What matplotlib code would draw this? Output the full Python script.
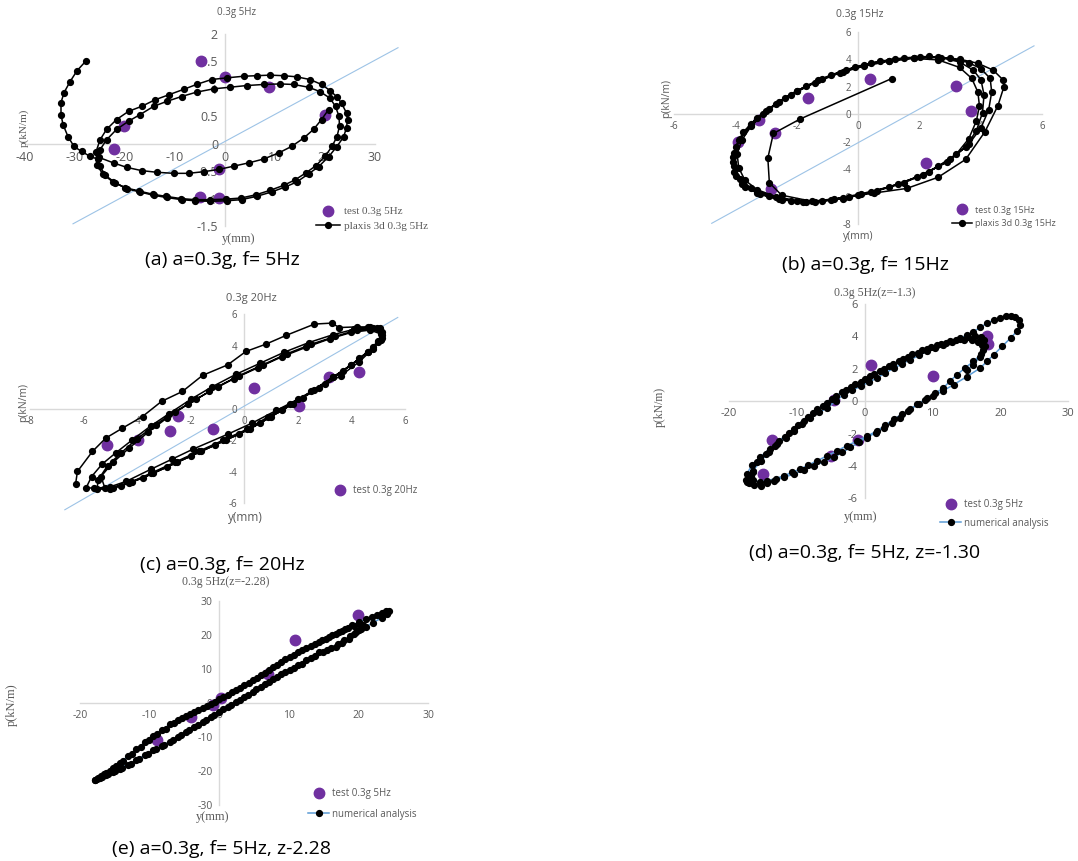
import matplotlib
matplotlib.use('Agg')
import matplotlib.pyplot as plt
from matplotlib.ticker import FuncFormatter

W, H = 1078, 861
SANS = 'Open Sans'
SERIF = 'Liberation Serif'
PURPLE = '#7030A0'
GRAY = '#595959'
REFBLUE = '#9DC3E6'
LINEBLUE = '#5B9BD5'

plt.rcParams['font.family'] = [SANS, 'DejaVu Sans']

# ---------------- (a) 0.3g 5Hz ----------------
a_test_x = [-4.8, 0.0, 8.7, 20.0, -20.3, -22.3, -1.3, -5.0, -1.3]
a_test_y = [1.51, 1.22, 1.03, 0.53, 0.32, -0.09, -0.47, -0.98, -0.99]
a_ref = [(-30.4, -1.46), (34.6, 1.75)]
a_seg1 = [(-27.8, 1.51), (-29.6, 1.33), (-31.0, 1.13), (-32.2, 0.93), (-32.8, 0.75), (-32.8, 0.53),
          (-32.4, 0.35), (-31.4, 0.13), (-30.2, -0.05), (-28.7, -0.14), (-27.0, -0.23), (-25.5, -0.28)]
a_seg2 = [(-25.0, -0.41), (-24.0, -0.57), (-22.0, -0.71), (-19.7, -0.82), (-17.0, -0.88), (-14.3, -0.94),
          (-11.7, -0.98), (-8.7, -1.02), (-6.0, -1.04), (-3.0, -1.05), (0.3, -1.04), (3.3, -1.02),
          (6.3, -0.96), (9.3, -0.88), (12.0, -0.79), (14.3, -0.70), (16.7, -0.55), (18.7, -0.42),
          (20.7, -0.24), (22.3, -0.06), (23.7, 0.12), (24.3, 0.29), (24.5, 0.44), (24.3, 0.56),
          (23.3, 0.74), (22.3, 0.86), (21.0, 0.97), (19.3, 1.08), (17.0, 1.17), (14.3, 1.22),
          (11.7, 1.24), (9.0, 1.25), (6.3, 1.24), (3.7, 1.23), (0.3, 1.20), (-2.7, 1.17),
          (-5.7, 1.08), (-8.3, 0.99), (-11.3, 0.89), (-14.0, 0.80), (-16.7, 0.68), (-19.3, 0.59),
          (-21.7, 0.44), (-23.7, 0.26), (-25.0, 0.07), (-25.8, -0.15)]
a_seg3 = [(-25.6, -0.38), (-24.5, -0.55), (-22.5, -0.69), (-20.0, -0.80), (-17.3, -0.86), (-14.5, -0.92),
          (-11.8, -0.96), (-8.8, -1.00), (-6.0, -1.02), (-3.0, -1.02), (0.2, -1.01), (3.2, -0.99),
          (6.2, -0.93), (9.0, -0.85), (11.7, -0.76), (14.0, -0.66), (16.2, -0.53), (18.2, -0.40),
          (20.0, -0.23), (21.4, -0.05), (22.4, 0.13), (22.9, 0.32), (22.8, 0.50), (22.1, 0.68),
          (21.0, 0.83), (19.0, 0.95), (16.7, 1.03), (13.7, 1.08), (11.0, 1.09), (7.7, 1.08),
          (4.3, 1.06), (1.0, 1.03), (-2.3, 1.00), (-5.7, 0.94), (-8.7, 0.86), (-11.7, 0.77),
          (-14.3, 0.68), (-17.0, 0.53), (-19.3, 0.41), (-21.7, 0.26), (-23.7, 0.07), (-25.0, -0.11)]
a_seg4 = [(-25.2, -0.25), (-22.3, -0.35), (-19.7, -0.43), (-16.7, -0.49), (-13.7, -0.52), (-10.3, -0.54),
          (-7.3, -0.54), (-4.3, -0.51), (-1.3, -0.47), (1.7, -0.41), (4.7, -0.35), (7.7, -0.28),
          (10.7, -0.17), (13.3, -0.05), (15.7, 0.10), (17.7, 0.26), (19.3, 0.44), (20.7, 0.62)]

# ---------------- (b) 0.3g 15Hz ----------------
b_test_x = [0.38, 3.17, 3.66, -1.65, -3.23, -2.72, -3.93, -2.85, 2.2]
b_test_y = [2.55, 2.06, 0.22, 1.14, -0.44, -1.41, -2.06, -5.45, -3.59]
b_ref = [(-4.78, -7.95), (5.73, 4.97)]
b_seg1 = [(1.09, 2.59), (-1.9, -0.36), (-2.77, -1.41), (-2.95, -3.2), (-2.9, -5.0), (-2.5, -5.9),
          (-1.52, -6.35), (-0.5, -6.1), (0.5, -5.75), (1.58, -5.41), (2.6, -4.6), (3.5, -3.3),
          (4.13, -1.28), (4.55, 0.6), (4.75, 2.0), (4.73, 2.47), (4.4, 3.2)]
b_seg2 = [(3.9, 3.7), (3.3, 4.0), (2.6, 4.15), (1.8, 4.1), (1.0, 3.9), (0.2, 3.55), (-0.5, 3.1),
          (-1.3, 2.45), (-2.0, 1.7), (-2.6, 0.9), (-3.1, 0.0), (-3.5, -0.9), (-3.8, -1.9),
          (-3.95, -2.9), (-3.9, -3.9), (-3.7, -4.8), (-3.3, -5.5), (-2.7, -6.0), (-2.0, -6.3),
          (-1.2, -6.35), (-0.3, -6.05), (0.6, -5.6), (1.5, -5.0), (2.3, -4.2), (3.0, -3.3),
          (3.6, -2.2), (4.0, -1.0), (4.25, 0.3), (4.35, 1.6), (4.3, 2.6), (4.0, 3.3)]
b_seg3 = [(3.6, 3.75), (3.0, 4.05), (2.3, 4.2), (1.5, 4.1), (0.7, 3.85), (-0.1, 3.45), (-0.9, 2.85),
          (-1.7, 2.05), (-2.4, 1.15), (-3.0, 0.2), (-3.5, -0.8), (-3.85, -1.8), (-4.05, -2.8),
          (-4.05, -3.8), (-3.85, -4.7), (-3.5, -5.4), (-2.9, -5.95), (-2.2, -6.3), (-1.4, -6.4),
          (-0.5, -6.15), (0.4, -5.7), (1.3, -5.1), (2.1, -4.4), (2.9, -3.5), (3.5, -2.4),
          (3.85, -1.2), (4.05, 0.1), (4.1, 1.4), (4.0, 2.5), (3.75, 3.2)]
b_seg4 = [(3.3, 3.8), (2.7, 4.1), (2.0, 4.15), (1.2, 4.0), (0.4, 3.7), (-0.4, 3.2), (-1.2, 2.55),
          (-2.0, 1.7), (-2.7, 0.75), (-3.3, -0.25), (-3.75, -1.3), (-4.0, -2.4), (-4.1, -3.5),
          (-4.0, -4.5), (-3.7, -5.3), (-3.2, -5.85), (-2.5, -6.25), (-1.7, -6.4), (-0.8, -6.2),
          (0.1, -5.8), (1.0, -5.3), (1.9, -4.6), (2.6, -3.8), (3.2, -2.9), (3.6, -1.8),
          (3.85, -0.5), (3.95, 0.6), (3.9, 1.6), (3.7, 2.6)]
b_seg5 = [(3.3, 3.4), (2.6, 3.95), (1.8, 4.05), (1.0, 3.85), (0.2, 3.5), (-0.6, 3.0), (-1.4, 2.3),
          (-2.2, 1.4), (-2.9, 0.4), (-3.5, -0.7), (-3.9, -1.9), (-4.1, -3.1), (-4.05, -4.2),
          (-3.8, -5.1), (-3.3, -5.75), (-2.6, -6.2), (-1.8, -6.4), (-0.9, -6.25), (0.0, -5.9)]

# ---------------- (c) 0.3g 20Hz ----------------
c_test_x = [-5.11, -3.95, -2.47, -2.77, -1.18, 0.37, 2.06, 3.18, 4.27]
c_test_y = [-2.29, -2.01, -0.44, -1.38, -1.27, 1.31, 0.15, 2.05, 2.33]
c_ref = [(-6.7, -6.41), (5.73, 5.8)]
c_seg1 = [(-6.3, -4.8), (-6.23, -3.98), (-5.67, -2.71), (-5.17, -1.86), (-4.55, -1.23), (-3.8, -0.49),
          (-3.09, 0.47), (-2.31, 1.1), (-1.56, 2.12), (-0.62, 2.79), (0.06, 3.64), (0.8, 4.1),
          (1.56, 4.66), (2.62, 5.38), (3.26, 5.44), (3.55, 5.16), (4.2, 5.2), (4.6, 5.2),
          (4.95, 5.1), (5.15, 4.9), (5.15, 4.5), (4.8, 3.8), (4.3, 3.0), (3.6, 2.1), (2.8, 1.3),
          (2.0, 0.6), (1.2, -0.1), (0.3, -0.9), (-0.6, -1.6), (-1.9, -2.55), (-2.7, -3.2),
          (-3.5, -3.85), (-4.4, -4.6), (-5.0, -4.95), (-5.6, -5.05), (-5.9, -5.0)]
c_seg2 = [(-5.7, -4.3), (-5.3, -3.5), (-4.8, -2.8), (-4.2, -2.0), (-3.5, -1.1), (-2.8, -0.3),
          (-2.0, 0.6), (-1.2, 1.4), (-0.3, 2.2), (0.6, 2.9), (1.5, 3.6), (2.4, 4.2), (3.3, 4.7),
          (4.1, 5.05), (4.7, 5.2), (5.05, 5.1), (5.15, 4.7), (5.0, 4.3), (4.6, 3.6), (4.0, 2.8),
          (3.3, 2.0), (2.5, 1.1), (1.7, 0.3), (0.9, -0.5), (0.1, -1.3), (-0.8, -2.0), (-1.7, -2.7),
          (-2.6, -3.4), (-3.5, -4.1), (-4.3, -4.7), (-5.0, -5.1), (-5.5, -5.1)]
c_seg3 = [(-5.45, -4.5), (-5.1, -3.6), (-4.6, -2.8), (-4.0, -1.9), (-3.3, -1.0), (-2.6, -0.2),
          (-1.8, 0.6), (-1.0, 1.4), (-0.2, 2.1), (0.7, 2.8), (1.6, 3.5), (2.5, 4.1), (3.4, 4.6),
          (4.2, 5.0), (4.8, 5.1), (5.1, 4.9), (5.1, 4.4), (4.8, 3.9), (4.3, 3.2), (3.7, 2.4),
          (3.0, 1.6), (2.2, 0.7), (1.4, -0.1), (0.6, -0.9), (-0.2, -1.6), (-1.1, -2.3), (-2.0, -3.0),
          (-2.9, -3.7), (-3.8, -4.4), (-4.6, -4.9), (-5.2, -5.05)]
c_seg4 = [(-5.35, -4.3), (-4.9, -3.4), (-4.3, -2.5), (-3.6, -1.5), (-2.9, -0.6), (-2.1, 0.3),
          (-1.3, 1.1), (-0.4, 1.9), (0.5, 2.6), (1.4, 3.3), (2.3, 3.9), (3.2, 4.45), (4.0, 4.85),
          (4.7, 5.0), (5.1, 4.75), (5.0, 4.25), (4.6, 3.6), (4.0, 2.8), (3.3, 2.0), (2.6, 1.2),
          (1.8, 0.3), (1.0, -0.5), (0.2, -1.3), (-0.7, -2.0), (-1.6, -2.7), (-2.5, -3.4),
          (-3.4, -4.1), (-4.2, -4.65), (-4.9, -5.0)]

# ---------------- (d) 0.3g 5Hz (z=-1.3) ----------------
d_test_x = [0.93, 10.0, -4.46, 18.0, 18.1, -13.6, -0.98, -4.95, -15.0]
d_test_y = [2.25, 1.57, 0.06, 4.03, 3.52, -2.39, -2.39, -3.37, -4.5]
d_seg1 = [(-17.3, -5.0), (-16.5, -4.3), (-15.3, -3.7), (-14.1, -3.15), (-12.9, -2.66), (-11.6, -2.25),
          (-10.4, -1.84), (-9.2, -1.43), (-8.0, -1.02), (-6.7, -0.7), (-5.5, -0.41), (-4.3, 0.0),
          (-3.1, 0.41), (-1.9, 0.66), (-0.6, 0.92), (0.6, 1.17), (1.8, 1.43), (3.0, 1.73),
          (4.3, 2.04), (5.5, 2.3), (6.7, 2.56), (8.0, 2.82), (9.2, 3.07), (10.4, 3.28), (11.6, 3.48),
          (12.9, 3.68), (14.1, 3.89), (15.1, 4.09), (16.0, 4.29), (17.0, 4.55), (18.0, 4.81),
          (19.0, 5.0), (20.0, 5.15), (20.8, 5.25), (21.5, 5.27), (22.2, 5.2), (22.7, 5.0),
          (22.9, 4.7), (22.5, 4.35), (21.5, 3.9), (20.3, 3.4), (19.0, 2.86), (18.0, 2.45),
          (17.0, 2.04), (15.0, 1.5), (13.1, 1.02), (11.6, 0.65), (10.1, 0.31), (8.9, 0.05),
          (7.7, -0.2), (6.4, -0.6), (5.2, -1.02), (4.0, -1.33), (2.8, -1.64), (1.6, -1.95),
          (0.3, -2.25), (-0.9, -2.55), (-2.1, -2.86), (-3.3, -3.17), (-4.6, -3.48), (-6.0, -3.74),
          (-7.5, -3.99), (-9.0, -4.25), (-10.4, -4.5), (-11.9, -4.7), (-13.4, -4.91),
          (-14.4, -5.08), (-15.3, -5.21), (-16.3, -5.2), (-17.1, -5.07), (-17.5, -4.85), (-17.4, -4.5)]
d_seg2 = [(-16.6, -3.95), (-15.4, -3.45), (-14.0, -2.95), (-12.6, -2.45), (-11.2, -1.95), (-9.8, -1.45),
          (-8.4, -0.95), (-7.0, -0.5), (-5.6, -0.1), (-4.2, 0.3), (-2.8, 0.7), (-1.4, 1.05),
          (0.0, 1.35), (1.4, 1.7), (2.8, 2.0), (4.2, 2.3), (5.6, 2.6), (7.0, 2.9), (8.4, 3.15),
          (9.8, 3.35), (11.2, 3.55), (12.6, 3.72), (14.0, 3.85), (15.2, 3.95), (16.3, 4.0),
          (17.1, 3.95), (17.6, 3.75), (17.7, 3.4), (17.2, 2.9), (16.0, 2.45), (14.8, 2.05),
          (13.6, 1.64), (12.6, 1.25), (11.6, 0.82), (10.4, 0.5), (9.2, 0.2), (8.0, -0.15),
          (6.7, -0.51), (5.5, -0.8), (4.3, -1.12), (3.0, -1.5), (1.8, -1.84), (0.4, -2.15),
          (-1.1, -2.45), (-2.6, -2.75), (-4.1, -3.07), (-5.5, -3.37), (-7.0, -3.68), (-8.3, -3.95),
          (-9.5, -4.19), (-10.7, -4.4), (-11.9, -4.6), (-13.1, -4.78), (-14.4, -4.91),
          (-15.5, -4.98), (-16.4, -4.9), (-16.8, -4.65), (-16.5, -4.4)]
d_seg3 = [(-15.9, -3.75), (-14.6, -3.25), (-13.2, -2.75), (-11.8, -2.2), (-10.4, -1.7), (-9.0, -1.2),
          (-7.6, -0.75), (-6.2, -0.3), (-4.8, 0.15), (-3.4, 0.55), (-2.0, 0.9), (-0.6, 1.2),
          (0.8, 1.55), (2.2, 1.85), (3.6, 2.15), (5.0, 2.45), (6.4, 2.75), (7.8, 3.0), (9.2, 3.25),
          (10.6, 3.45), (12.0, 3.62), (13.4, 3.75), (14.7, 3.8), (15.8, 3.78), (16.7, 3.65),
          (17.3, 3.45), (17.5, 3.15), (17.0, 2.75), (16.0, 2.25), (15.0, 1.9)]

# ---------------- (e) 0.3g 5Hz (z=-2.28) ----------------
e_test_x = [19.9, 10.9, 7.0, 0.2, -0.9, -4.0, -9.0]
e_test_y = [26.0, 18.4, 8.6, 1.5, -0.7, -4.1, -10.8]
e_seg1 = [(-17.9, -22.7), (-17.0, -21.5), (-16.2, -20.5), (-15.2, -19.0), (-14.3, -17.6), (-13.1, -15.6),
          (-11.9, -13.6), (-10.7, -11.6), (-9.5, -9.7), (-8.3, -8.0), (-7.1, -6.3), (-5.9, -4.9),
          (-4.8, -3.7), (-3.6, -2.6), (-2.4, -1.5), (-1.2, -0.2), (0.0, 1.1), (1.2, 2.4), (2.4, 3.7),
          (3.6, 5.2), (4.8, 6.7), (6.0, 8.1), (7.1, 9.6), (8.3, 11.3), (9.5, 12.9), (10.7, 14.2),
          (11.9, 15.5), (13.1, 16.7), (14.3, 17.9), (15.3, 18.9), (16.2, 19.9), (17.2, 20.9),
          (18.1, 21.9), (19.0, 22.8), (20.0, 23.8), (21.0, 24.6), (21.9, 25.3), (22.6, 26.0),
          (23.3, 26.6), (23.9, 27.0), (24.3, 27.0), (24.0, 26.2), (23.3, 25.0), (22.0, 23.6),
          (21.0, 22.4), (20.0, 21.4), (19.3, 20.2), (18.6, 18.9), (17.6, 17.7), (16.7, 16.5),
          (15.5, 15.7), (14.3, 15.0), (13.1, 13.3), (11.9, 11.6), (10.7, 10.3), (9.5, 9.1),
          (8.3, 7.7), (7.1, 6.2), (6.0, 4.7), (4.8, 3.2), (3.6, 1.7), (2.4, 0.3), (1.2, -1.2),
          (0.0, -2.6), (-1.2, -4.1), (-2.4, -5.6), (-3.6, -7.0), (-4.8, -8.5), (-5.9, -10.0),
          (-7.1, -11.5), (-8.3, -12.7), (-9.5, -13.9), (-10.7, -15.4), (-11.9, -16.9),
          (-13.1, -18.1), (-14.3, -19.3), (-15.2, -20.3), (-16.2, -21.3), (-17.1, -22.1), (-17.8, -22.6)]
e_seg2 = [(-17.4, -22.0), (-16.6, -21.0), (-15.7, -19.9), (-14.8, -18.6), (-13.8, -17.0), (-12.6, -15.0),
          (-11.3, -12.9), (-10.1, -11.0), (-8.9, -9.2), (-7.7, -7.5), (-6.5, -5.9), (-5.3, -4.5),
          (-4.2, -3.3), (-3.0, -2.2), (-1.8, -1.0), (-0.6, 0.4), (0.6, 1.8), (1.8, 3.1), (3.0, 4.5),
          (4.2, 6.0), (5.4, 7.4), (6.6, 8.9), (7.7, 10.5), (8.9, 12.1), (10.1, 13.6), (11.3, 14.9),
          (12.5, 16.1), (13.7, 17.3), (14.8, 18.4), (15.8, 19.4), (16.7, 20.3), (17.6, 21.2),
          (18.5, 22.0), (19.4, 22.7), (20.2, 23.2), (20.6, 22.8), (20.3, 21.9), (19.6, 20.8),
          (18.8, 19.6), (17.9, 18.4), (17.0, 17.3), (16.0, 16.2), (14.9, 15.1), (13.7, 13.9),
          (12.5, 12.6), (11.3, 11.2), (10.1, 9.8), (8.9, 8.4), (7.7, 7.0), (6.5, 5.5), (5.3, 4.0),
          (4.1, 2.5), (2.9, 1.0), (1.7, -0.5), (0.5, -1.9), (-0.7, -3.4), (-1.9, -4.9), (-3.1, -6.4),
          (-4.3, -7.9), (-5.5, -9.4), (-6.7, -10.9), (-7.9, -12.3), (-9.1, -13.6), (-10.3, -14.9),
          (-11.5, -16.4), (-12.7, -17.8), (-13.9, -19.0), (-15.0, -20.1), (-16.0, -21.0),
          (-16.9, -21.8), (-17.6, -22.4)]


def fx(x):
    return x / W


def fy(y):
    return 1 - y / H


def make_axes(fig, left, top, right, bottom, xlim, ylim, xticks, yticks, fs):
    ax = fig.add_axes([left / W, 1 - bottom / H, (right - left) / W, (bottom - top) / H])
    ax.set_xlim(xlim)
    ax.set_ylim(ylim)
    ax.patch.set_alpha(0)
    for s in ['top', 'right']:
        ax.spines[s].set_visible(False)
    for s in ['left', 'bottom']:
        ax.spines[s].set_position('zero')
        ax.spines[s].set_color('#d9d9d9')
        ax.spines[s].set_linewidth(1.0)
        ax.spines[s].set_zorder(0.5)
    ax.set_xticks(xticks)
    ax.set_yticks(yticks)
    fmt = FuncFormatter(lambda v, p: '%g' % v)
    ax.xaxis.set_major_formatter(fmt)
    ax.yaxis.set_major_formatter(fmt)
    ax.tick_params(length=0, labelsize=fs, labelcolor=GRAY, pad=5)
    return ax


def join(*segs):
    pts = [p for s in segs for p in s]
    return [p[0] for p in pts], [p[1] for p in pts]


def draw_curve(ax, segs, color, ms=4.2):
    xs, ys = join(*segs)
    line, = ax.plot(xs, ys, '-', color=color, lw=1.1, marker='o', ms=ms,
                    mfc='black', mec='black', zorder=3, clip_on=False)
    return line


def draw_test(ax, xs, ys, ms=7.5):
    pts, = ax.plot(xs, ys, 'o', ls='none', color=PURPLE, ms=ms, zorder=2, clip_on=False)
    return pts


def draw_ref(ax, ref):
    ax.plot([ref[0][0], ref[1][0]], [ref[0][1], ref[1][1]], color=REFBLUE, lw=0.8,
            zorder=1, clip_on=False)


def add_legend(fig, ax, handles, labels, x, y, family, size, spacing):
    ax.legend(handles, labels, loc='center left', bbox_to_anchor=(fx(x), fy(y)),
              bbox_transform=fig.transFigure, frameon=False, borderpad=0, borderaxespad=0,
              handlelength=2.2, handletextpad=0.3, labelspacing=spacing,
              prop={'family': family, 'size': size}, labelcolor=GRAY)


def label(fig, x, y, s, family, size, rot=0, color=GRAY):
    fig.text(fx(x), fy(y), s, ha='center', va='center', family=family, size=size,
             rotation=rot, color=color)


fig = plt.figure(figsize=(W / 100, H / 100), dpi=100)

# (a)
ax = make_axes(fig, 25, 34, 375, 226, (-40, 30), (-1.5, 2),
               [-40, -30, -20, -10, 0, 10, 20, 30], [-1.5, -1, -0.5, 0, 0.5, 1, 1.5, 2], 9)
draw_ref(ax, a_ref)
h1 = draw_test(ax, a_test_x, a_test_y)
h2 = draw_curve(ax, [a_seg1, a_seg2, a_seg3, a_seg4], 'black')
add_legend(fig, ax, [h1, h2], ['test 0.3g 5Hz', 'plaxis 3d 0.3g 5Hz'], 316, 219, SERIF, 8, 0.45)
label(fig, 237, 13, '0.3g 5Hz', SANS, 7)
label(fig, 24, 128, 'p(kN/m)', SERIF, 8, rot=90)
label(fig, 239, 239, 'y(mm)', SERIF, 9)
label(fig, 222, 260, '(a) a=0.3g, f= 5Hz', SANS, 14, color='black')

# (b)
ax = make_axes(fig, 674.3, 31.7, 1042.3, 224, (-6, 6), (-8, 6),
               [-6, -4, -2, 0, 2, 4, 6], [-8, -6, -4, -2, 0, 2, 4, 6], 7)
draw_ref(ax, b_ref)
h1 = draw_test(ax, b_test_x, b_test_y)
h2 = draw_curve(ax, [b_seg1, b_seg2, b_seg3, b_seg4, b_seg5], 'black')
add_legend(fig, ax, [h1, h2], ['test 0.3g 15Hz', 'plaxis 3d 0.3g 15Hz'], 952, 217, SANS, 6.5, 0.55)
label(fig, 860, 14, '0.3g 15Hz', SANS, 7.5)
label(fig, 667, 98, 'p(kN/m)', SANS, 7.5, rot=90)
label(fig, 858, 236, 'y(mm)', SANS, 7.5)
label(fig, 865, 265, '(b) a=0.3g, f= 15Hz', SANS, 14, color='black')

# (c)
ax = make_axes(fig, 30, 314.3, 405, 503.3, (-8, 6), (-6, 6),
               [-8, -6, -4, -2, 0, 2, 4, 6], [-6, -4, -2, 0, 2, 4, 6], 7)
draw_ref(ax, c_ref)
h1 = draw_test(ax, c_test_x, c_test_y)
draw_curve(ax, [c_seg1, c_seg2, c_seg3, c_seg4], 'black')
add_legend(fig, ax, [h1], ['test 0.3g 20Hz'], 329, 491, SANS, 7, 0.5)
label(fig, 251, 298, '0.3g 20Hz', SANS, 8)
label(fig, 24, 403, 'p(kN/m)', SANS, 7.5, rot=90)
label(fig, 245, 518, 'y(mm)', SANS, 8.5)
label(fig, 222, 565, '(c) a=0.3g, f= 20Hz', SANS, 14, color='black')

# (d)
ax = make_axes(fig, 729, 304, 1068.3, 498.3, (-20, 30), (-6, 6),
               [-20, -10, 0, 10, 20, 30], [-6, -4, -2, 0, 2, 4, 6], 8)
h1 = draw_test(ax, d_test_x, d_test_y)
h2 = draw_curve(ax, [d_seg1, d_seg2, d_seg3], LINEBLUE)
add_legend(fig, ax, [h1, h2], ['test 0.3g 5Hz', 'numerical analysis'], 940, 514, SANS, 7, 0.75)
label(fig, 875, 293, '0.3g 5Hz(z=-1.3)', SERIF, 8.5)
label(fig, 660, 407, 'p(kN/m)', SERIF, 8.5, rot=90)
label(fig, 861, 517, 'y(mm)', SERIF, 9)
label(fig, 865, 553, '(d) a=0.3g, f= 5Hz, z=-1.30', SANS, 14, color='black')

# (e)
ax = make_axes(fig, 80, 601, 428.3, 805, (-20, 30), (-30, 30),
               [-20, -10, 0, 10, 20, 30], [-30, -20, -10, 0, 10, 20, 30], 7.5)
h1 = draw_test(ax, e_test_x, e_test_y)
h2 = draw_curve(ax, [e_seg1, e_seg2], LINEBLUE)
add_legend(fig, ax, [h1, h2], ['test 0.3g 5Hz', 'numerical analysis'], 308, 804, SANS, 7, 0.95)
label(fig, 226, 582, '0.3g 5Hz(z=-2.28)', SERIF, 8.5)
label(fig, 12, 705, 'p(kN/m)', SERIF, 9, rot=90)
label(fig, 213, 817, 'y(mm)', SERIF, 9)
label(fig, 222, 849, '(e) a=0.3g, f= 5Hz, z-2.28', SANS, 14, color='black')

fig.savefig('out.png', dpi=100)
